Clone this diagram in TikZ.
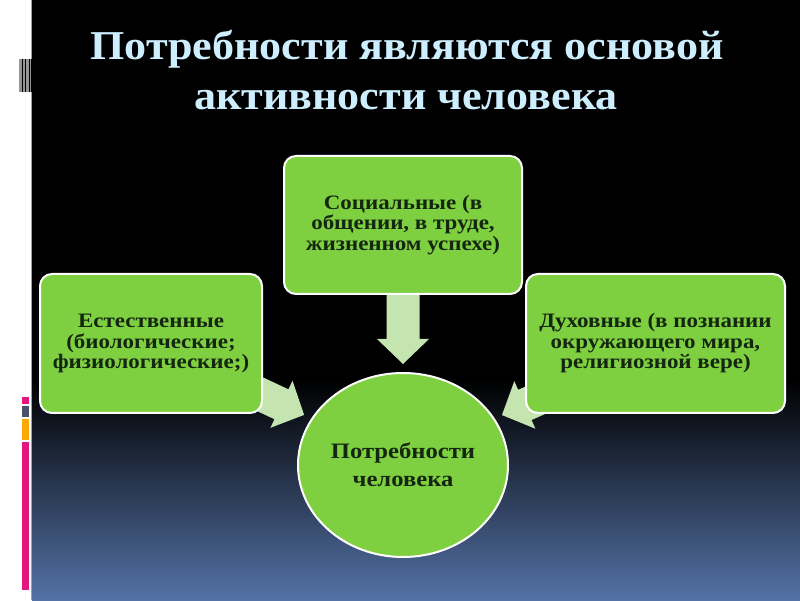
\documentclass[tikz,border=0pt]{standalone}
\usepackage{fontspec}
\setmainfont{Liberation Serif}
\newfontfamily\titlefont{Liberation Serif}[FakeStretch=1.075]
\newfontfamily\boxfont{Liberation Serif}[FakeStretch=1.12]
\usetikzlibrary{calc,shapes.geometric}
\definecolor{boxgreen}{RGB}{126,208,64}
\definecolor{arrowgreen}{RGB}{196,229,176}
\definecolor{titlecyan}{RGB}{204,238,255}
\definecolor{textdark}{RGB}{20,38,16}
\definecolor{bottomblue}{RGB}{84,114,166}
\definecolor{stripegray}{RGB}{160,160,160}
\definecolor{markgray}{RGB}{150,150,150}
\definecolor{barpink}{RGB}{228,22,124}
\definecolor{bargray}{RGB}{74,84,104}
\definecolor{barorange}{RGB}{250,170,0}
\pgfdeclarelayer{back}
\pgfdeclarelayer{arrowlayer}
\pgfsetlayers{back,arrowlayer,main}
% block arrow from #1 (start) to #2 (tip)
\newcommand\needarrow[2]{%
  \coordinate (na) at (#1);
  \coordinate (nb) at (#2);
  \coordinate (nh) at ($(nb)!25pt!(na)$);
  \fill[blockfill]
    ($(na)!16.5pt!90:(nb)$) -- ($(nh)!16.5pt!-90:(na)$) --
    ($(nh)!26pt!-90:(na)$) -- (nb) -- ($(nh)!26pt!90:(na)$) --
    ($(nh)!16.5pt!90:(na)$) -- ($(na)!16.5pt!-90:(nb)$) -- cycle;
}
\begin{document}
\begin{tikzpicture}[x=1pt,y=1pt,
  needbox/.style={draw=white, line width=2pt, fill=boxgreen, rounded corners=12pt,
    text=textdark, align=center, font=\boxfont\bfseries\fontsize{20.5}{20.5}\selectfont, inner sep=0pt},
  needcirc/.style={ellipse, draw=white, line width=2pt, fill=boxgreen, text=textdark,
    align=center, font=\boxfont\bfseries\fontsize{22}{28}\selectfont,
    minimum width=210pt, minimum height=184pt, inner sep=0pt},
  blockfill/.style={fill=arrowgreen},
  titletext/.style={text=titlecyan, font=\titlefont\bfseries\fontsize{41}{50}\selectfont, inner sep=0pt}]
\useasboundingbox (0,0) rectangle (800,600);
\begin{pgfonlayer}{back}
  \fill[white] (0,0) rectangle (32,600);
  \fill[black] (32,219) rectangle (800,600);
  \shade[top color=black, bottom color=bottomblue] (32,0) rectangle (800,220);
  \draw[stripegray, line width=1pt] (31.5,0) -- (31.5,600);
  % stripe marker
  \fill[markgray] (19,508) rectangle (31,541);
  \foreach \sx in {21.5,25,28.5,30.5}{\fill[black] (\sx,508) rectangle ++(1.3,33);}
  % coloured bars
  \fill[barpink] (22,196) rectangle (29,203);
  \fill[bargray] (22,183) rectangle (29,194);
  \fill[barorange] (22,160) rectangle (29,181);
  \fill[barpink] (22,10) rectangle (29,158);
\end{pgfonlayer}

\node[titletext, anchor=base] (title1) at (407,540) {Потребности являются основой};
\node[titletext, anchor=base] (title2) at (406,490) {активности человека};

\node[needbox, minimum width=238pt, minimum height=138pt] (top) at (403,375)
  {Социальные (в\\общении, в труде,\\жизненном успехе)};
\node[needbox, minimum width=222pt, minimum height=139pt] (left) at (151,256.5)
  {Естественные\\(биологические;\\физиологические;)};
\node[needbox, minimum width=259pt, minimum height=139pt] (right) at (655.5,256.5)
  {Духовные (в познании\\окружающего мира,\\религиозной вере)};
\node[needcirc] (circ) at (403,135) {Потребности\\человека};

\begin{pgfonlayer}{arrowlayer}
  \coordinate (downstart) at (top.south);
  \coordinate (downtip) at ($(circ.north)+(0,8)$);
  \needarrow{downstart}{downtip}
  \coordinate (leftstart) at ($(left.east)+(-12,-46.5)$);
  \coordinate (lefttip) at ($(circ.153)!8pt!(leftstart)$);
  \needarrow{leftstart}{lefttip}
  \coordinate (rightstart) at ($(right.west)+(29,-48.5)$);
  \coordinate (righttip) at ($(circ.27)!8pt!(rightstart)$);
  \needarrow{rightstart}{righttip}
\end{pgfonlayer}
\end{tikzpicture}
\end{document}
